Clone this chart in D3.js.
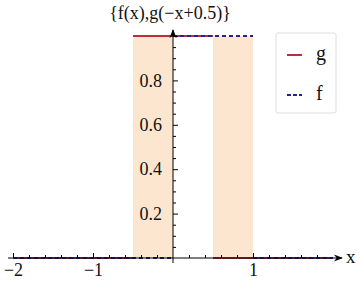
<!DOCTYPE html>
<html>
<head>
<meta charset="utf-8">
<script src="https://cdn.jsdelivr.net/npm/d3@7"></script>
<style>
  body { margin: 0; background: #fff; }
  svg text { font-family: "Liberation Serif", "DejaVu Serif", serif; fill: #111; }
</style>
</head>
<body>
<svg id="chart" width="360" height="282"></svg>
<script>
// piecewise constant series: breakpoints and levels between them
const gBreaks = [-2, -0.5, 0.5, 2];
const gLevels = [0, 1, 0];
const fBreaks = [-2, 0, 1, 2];
const fLevels = [0, 1, 0];
// shaded intervals (where f and g differ)
const shadeRanges = [[-0.5, 0], [0.5, 1]];
const xMajor = [-2, -1, 1];
const yMajor = [0.2, 0.4, 0.6, 0.8];
const legendNames = ['g', 'f'];

const svg = d3.select('#chart');
const x = d3.scaleLinear().domain([-2, 2]).range([13, 333]);
const y = d3.scaleLinear().domain([0, 1]).range([258, 36]);

const red = '#b8303a', blue = '#23238f';

// arrow marker
svg.append('defs').append('marker')
    .attr('id', 'arr').attr('viewBox', '0 0 10 10')
    .attr('refX', 9).attr('refY', 5)
    .attr('markerWidth', 9).attr('markerHeight', 9)
    .attr('markerUnits', 'userSpaceOnUse')
    .attr('orient', 'auto')
    .append('path').attr('d', 'M0,1 L10,5 L0,9 L3,5 Z').attr('fill', '#000');

// shading
svg.selectAll('.shade')
    .data(shadeRanges)
    .enter().append('rect')
    .attr('x', d => x(d[0]))
    .attr('width', d => x(d[1]) - x(d[0]))
    .attr('y', y(1))
    .attr('height', y(0) - y(1))
    .attr('fill', '#fde6cf');

function segments(breaks, levels) {
    return levels.map((v, i) => [[breaks[i], v], [breaks[i + 1], v]]);
}
const line = d3.line().x(d => x(d[0])).y(d => y(d[1]));

svg.selectAll('.g')
    .data(segments(gBreaks, gLevels))
    .enter().append('path')
    .attr('d', line)
    .attr('stroke', red).attr('stroke-width', 2).attr('fill', 'none');

svg.selectAll('.f')
    .data(segments(fBreaks, fLevels))
    .enter().append('path')
    .attr('d', line)
    .attr('stroke', blue).attr('stroke-width', 2)
    .attr('stroke-dasharray', '4,3').attr('fill', 'none');

// x axis
const y0 = y(0);
const xMinor = d3.range(-2, 2.01, 0.2).map(v => +v.toFixed(2)).filter(v => Math.abs(v - Math.round(v)) > 1e-6);
svg.append('g').attr('transform', `translate(0,${y0})`)
    .call(d3.axisTop(x).tickValues(xMinor).tickSize(3).tickFormat(''))
    .call(g => g.select('.domain').remove());
svg.append('g').attr('transform', `translate(0,${y0})`)
    .call(d3.axisTop(x).tickValues([-2, -1, 1]).tickSize(5).tickFormat(''))
    .call(g => g.select('.domain').remove());
svg.append('g').attr('transform', `translate(0,${y0})`)
    .call(d3.axisBottom(x).tickValues(xMajor).tickSize(0).tickPadding(5)
        .tickFormat(d => String(d).replace('-', '\u2212')))
    .call(g => g.select('.domain').remove())
    .selectAll('text').style('font-size', '18px');
svg.append('line')
    .attr('x1', 8).attr('x2', 342).attr('y1', y0).attr('y2', y0)
    .attr('stroke', '#000').attr('marker-end', 'url(#arr)');
svg.append('text').attr('x', 346).attr('y', y0 + 5)
    .style('font-size', '19px').text('x');

// y axis
const x0 = x(0);
const yMinor = d3.range(0.05, 1.0, 0.05).map(v => +v.toFixed(2)).filter(v => Math.abs(v * 5 - Math.round(v * 5)) > 1e-6);
svg.append('g').attr('transform', `translate(${x0},0)`)
    .call(d3.axisRight(y).tickValues(yMinor).tickSize(3).tickFormat(''))
    .call(g => g.select('.domain').remove());
svg.append('g').attr('transform', `translate(${x0},0)`)
    .call(d3.axisRight(y).tickValues(yMajor.concat([1])).tickSize(5).tickFormat(''))
    .call(g => g.select('.domain').remove());
svg.append('g').attr('transform', `translate(${x0 - 11},0)`)
    .call(d3.axisLeft(y).tickValues(yMajor).tickSize(0).tickPadding(0).tickFormat(d3.format('.1f')))
    .call(g => g.select('.domain').remove())
    .selectAll('text').style('font-size', '18px');
svg.append('line')
    .attr('x1', x0).attr('x2', x0).attr('y1', y0 + 5).attr('y2', 30)
    .attr('stroke', '#000').attr('marker-end', 'url(#arr)');
svg.selectAll('.tick line').attr('stroke', '#000');

// title
svg.append('text').attr('x', 170).attr('y', 19).attr('text-anchor', 'middle')
    .style('font-size', '18px')
    .text('{f(x),g(\u2212x+0.5)}');

// legend
const lg = svg.append('g').attr('transform', 'translate(276,33)');
lg.append('rect').attr('width', 60).attr('height', 80).attr('rx', 2)
    .attr('fill', '#fff').attr('stroke', '#ddd');
const items = lg.selectAll('.item').data(legendNames).enter().append('g')
    .attr('transform', (d, i) => `translate(0,${22 + i * 40})`);
items.append('line').attr('x1', 11).attr('x2', 26)
    .attr('stroke', (d, i) => i === 0 ? red : blue).attr('stroke-width', 2)
    .attr('stroke-dasharray', (d, i) => i === 0 ? null : '4,2');
items.append('text').attr('x', 40).attr('y', 5)
    .style('font-size', '20px').text(d => d);
</script>
</body>
</html>
